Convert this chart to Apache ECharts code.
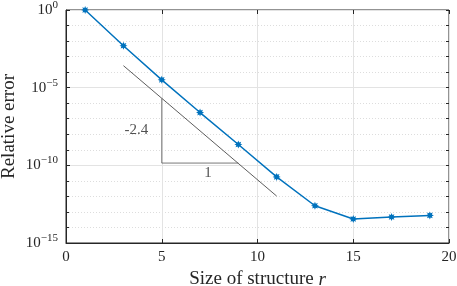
<!DOCTYPE html>
<html><head><meta charset="utf-8">
<script src="https://cdn.jsdelivr.net/npm/echarts@6/dist/echarts.min.js"></script>
<style>html,body{margin:0;padding:0;background:#fff}#c{width:457px;height:286px}</style>
</head><body><div id="c"></div>
<script>
const sizes = [1, 3, 5, 7, 9, 11, 13, 15, 17, 19];
const errors = [1e0, 5.0e-3, 3.2e-5, 2.5e-7, 2.2e-9, 1.8e-11, 2.5e-13, 3.5e-14, 4.7e-14, 6.0e-14];
const refLine = [[3, 2.6e-4], [11, 1.05e-12]];
const triangle = [[5, 2.0e-6], [5, 1.4e-10], [9, 1.4e-10]];
const slopeLabels = [[3.68, 1.9e-8, '-2.4'], [7.42, 3.2e-11, '1']];
const xTicks = [0, 5, 10, 15, 20];

const FONT = 'Liberation Serif';
const chart = echarts.init(document.getElementById('c'), null, {renderer: 'canvas'});
const dark = '#262626';

// 8-spike asterisk-like marker path
let starPath = 'path://';
for (let k = 0; k < 16; k++) {
  const r = (k % 2 === 0) ? 10 : 5.5;
  const a = Math.PI * k / 8;
  starPath += (k === 0 ? 'M' : 'L') + (10 + r * Math.sin(a)).toFixed(2) + ',' + (10 - r * Math.cos(a)).toFixed(2) + ' ';
}
starPath += 'Z';

function logAxis(extra) {
  return Object.assign({
    type: 'log', logBase: 10, min: 1e-15, max: 1, gridIndex: 0, position: 'left', offset: 0,
    axisLine: {show: false}, axisLabel: {show: false}, splitLine: {show: false},
    axisTick: {show: false}
  }, extra);
}
chart.setOption({
  animation: false,
  grid: {left: 66, right: 8, top: 10, bottom: 43, containLabel: false, outerBoundsMode: 'none',
    show: true, borderColor: dark, borderWidth: 1, backgroundColor: 'transparent'},
  xAxis: [{
    type: 'value', min: 0, max: 20, interval: 5, position: 'bottom',
    axisLine: {show: true, lineStyle: {color: dark}},
    axisTick: {show: true, inside: true, length: 4, lineStyle: {color: dark}},
    axisLabel: {color: dark, fontFamily: FONT, fontSize: 15, margin: 7},
    splitLine: {show: true, lineStyle: {color: '#e3e3e3', width: 1}},
    name: 'Size of structure {i|r}', nameLocation: 'middle', nameGap: 27, nameMoveOverlap: false,
    nameTextStyle: {color: dark, fontFamily: FONT, fontSize: 19,
      rich: {i: {fontStyle: 'italic', fontFamily: FONT, fontSize: 19, color: dark}}}
  }, {
    type: 'value', min: 0, max: 20, interval: 5, position: 'top',
    axisLine: {show: false}, axisLabel: {show: false}, splitLine: {show: false},
    axisTick: {show: true, inside: true, length: 4, lineStyle: {color: dark}}
  }],
  yAxis: [
    logAxis({interval: 1, splitLine: {show: true, lineStyle: {color: '#dddddd', type: [1, 2], width: 1}},
      axisTick: {show: true, inside: true, length: 3, lineStyle: {color: dark}}}),
    logAxis({interval: 5, axisLine: {show: true, lineStyle: {color: dark}},
      splitLine: {show: true, lineStyle: {color: '#e3e3e3', width: 1}},
      axisTick: {show: true, inside: true, length: 4, lineStyle: {color: dark}},
      axisLabel: {show: true, margin: 8, color: dark, fontFamily: FONT,
        formatter: function (v) {
          const e = Math.round(Math.log10(v));
          return '{b|10}{e|' + (e < 0 ? '\u2212' + (-e) : e) + '}';
        },
        rich: {b: {fontFamily: FONT, fontSize: 15, color: dark},
               e: {fontFamily: FONT, fontSize: 11, color: dark, padding: [0, 0, 10, 0]}}},
      name: 'Relative error', nameLocation: 'middle', nameGap: 47, nameMoveOverlap: false,
      nameTextStyle: {color: dark, fontFamily: FONT, fontSize: 19}}),
    logAxis({interval: 1, position: 'right',
      axisTick: {show: true, inside: true, length: 3, lineStyle: {color: dark}}})
  ],
  series: [
    {type: 'line', xAxisIndex: 0, yAxisIndex: 1, data: refLine.map(p => p.slice()),
     symbol: 'none', lineStyle: {color: '#333', width: 0.8}, z: 3},
    {type: 'line', xAxisIndex: 0, yAxisIndex: 1, data: triangle.map(p => p.slice()),
     symbol: 'none', lineStyle: {color: '#555', width: 0.8}, z: 3},
    {type: 'line', xAxisIndex: 0, yAxisIndex: 1,
     data: sizes.map((s, i) => [s, errors[i]]),
     symbol: starPath, symbolSize: 8,
     lineStyle: {color: '#0072BD', width: 1.5}, itemStyle: {color: '#0072BD'}, z: 5},
    {type: 'scatter', xAxisIndex: 0, yAxisIndex: 1, symbolSize: 0,
     data: slopeLabels.map(p => ({value: [p[0], p[1]], name: p[2]})),
     label: {show: true, position: 'inside', formatter: p => p.name,
       color: dark, fontFamily: FONT, fontSize: 15}, z: 6}
  ]
});
</script></body></html>
